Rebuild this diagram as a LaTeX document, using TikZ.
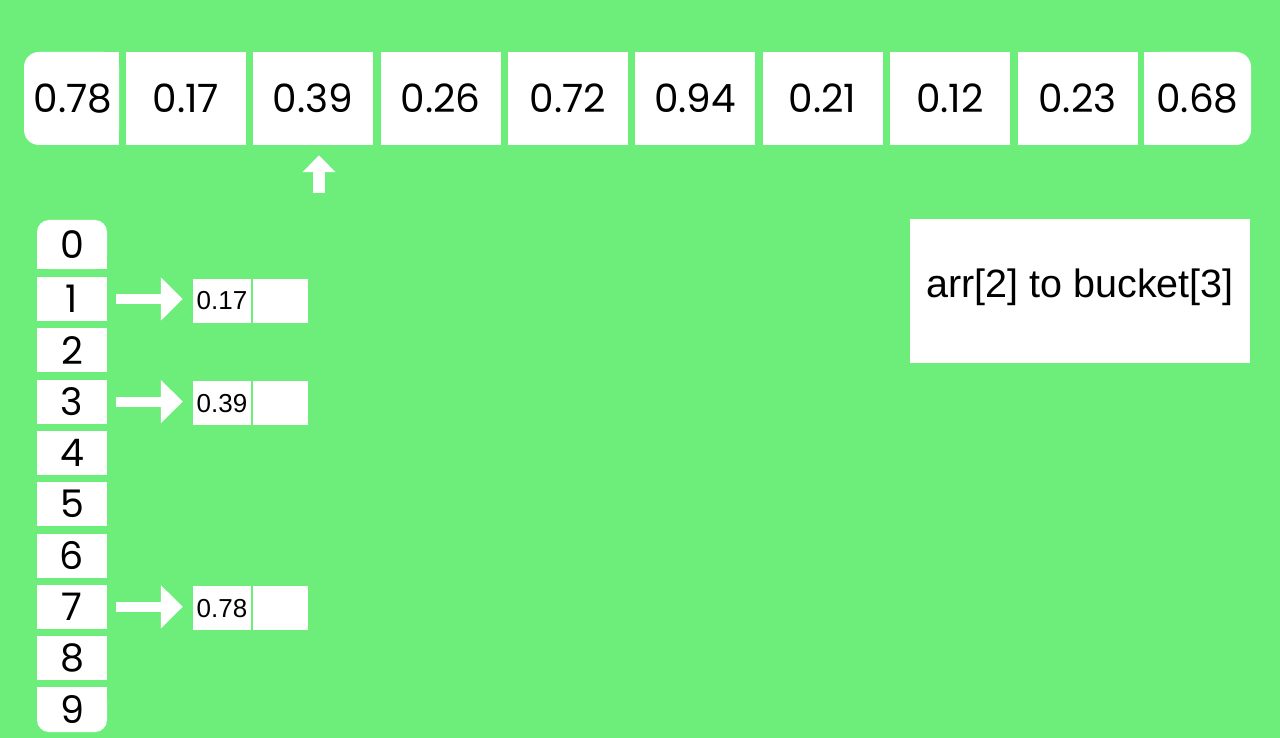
\documentclass[tikz,border=0pt]{standalone}
\usepackage{fontspec}
\usetikzlibrary{arrows.meta}
\newfontfamily\pop{Poppins}
\setmainfont{Liberation Sans}
\definecolor{bggreen}{HTML}{6DEE7B}
\begin{document}
\begin{tikzpicture}[x=1pt,y=-1pt,
  cell/.style={fill=white,inner sep=0pt,minimum width=120pt,minimum height=93pt,font=\pop\fontsize{39}{39}\selectfont},
  bcell/.style={fill=white,inner sep=0pt,minimum width=70pt,minimum height=44pt,font=\pop\fontsize{38}{38}\selectfont},
  lcell/.style={fill=white,inner sep=0pt,minimum height=44pt,font=\fontsize{26}{26}\selectfont},
  fat/.style={white,line width=10pt,-{Triangle[length=22pt,width=42pt]},shorten <=9pt,shorten >=10pt}]
\useasboundingbox (0,0) rectangle (1280,738);
\fill[bggreen] (0,0) rectangle (1280,738);
% top array
\fill[white,rounded corners=15pt] (24,52) rectangle (119,145);
\fill[white] (60,52) rectangle (119,145);
\node[cell,fill=none,minimum width=95pt] (c1) at (73,98.5) {0.78};
\node[cell] (c2) at (186,98.5) {0.17};
\node[cell] (c3) at (313,98.5) {0.39};
\node[cell] (c4) at (440.5,98.5) {0.26};
\node[cell] (c5) at (568,98.5) {0.72};
\node[cell] (c6) at (695,98.5) {0.94};
\node[cell] (c7) at (822.5,98.5) {0.21};
\node[cell] (c8) at (950,98.5) {0.12};
\node[cell] (c9) at (1077.5,98.5) {0.23};
\fill[white,rounded corners=15pt] (1144,52) rectangle (1251,145);
\fill[white] (1144,52) rectangle (1200,145);
\node[cell,fill=none,minimum width=107pt] (c10) at (1197.5,98.5) {0.68};
% up arrow
\coordinate (upstart) at (319,193);
\draw[white,line width=12pt,-{Triangle[length=17pt,width=32pt]},shorten >=10pt] (upstart) -- (upstart |- c3.south);
% buckets
\fill[white,rounded corners=12pt] (37,220) rectangle (107,269);
\fill[white] (37,245) rectangle (107,269);
\node[bcell,fill=none,minimum height=49pt] (b0) at (72,244.5) {0};
\foreach \i in {1,...,8} {
  \node[bcell] (b\i) at (72,{299+(\i-1)*51.3}) {\i};
}
\fill[white,rounded corners=12pt] (37,687) rectangle (107,732);
\fill[white] (37,687) rectangle (107,710);
\node[bcell,fill=none,minimum height=45pt] (b9) at (72,709.5) {9};
% linked nodes
\foreach \i/\v in {1/0.17,3/0.39,7/0.78} {
  \node[lcell,minimum width=58pt] (l\i a) at (222,{300.5+(\i-1)*51.3}) {\v};
  \node[lcell,minimum width=55pt] (l\i b) at (280.5,{300.5+(\i-1)*51.3}) {};
  \draw[fat] (b\i.east) -- (b\i.east -| l\i a.west);
}
% info box
\node[fill=white,minimum width=340pt,minimum height=144pt,inner sep=0pt] (info) at (1080,291) {};
\node[font=\fontsize{39.5}{39.5}\selectfont,inner sep=0pt] (infot) at (1080,287) {arr[2] to bucket[3]};
\end{tikzpicture}
\end{document}
